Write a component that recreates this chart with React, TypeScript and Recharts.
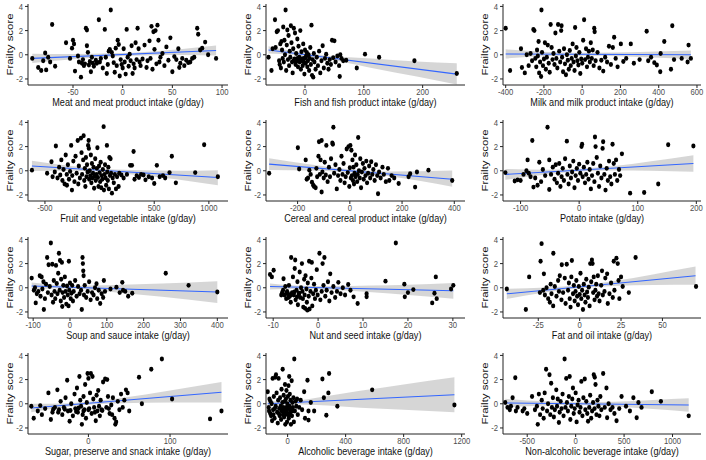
import React from 'react';
import { ComposedChart, Scatter, Line, Area, XAxis, YAxis } from 'recharts';

type P = [number, number];
type B = [number, number, number];

// ---------- data (x = intake deviation g/day, y = frailty score) ----------
const meatPoints: P[] = [[-91,-0.3],[-85,-1.05],[-82,-1.3],[-80,-0.5],[-78,0.15],[-77,-1.25],[-75,-0.2],[-73,-0.6],[-71,2.5],[-68,-0.95],[-57,1.0],[-53,-0.3],[-51,0.55],[-50,1.2],[-49,0.9],[-48,-1.35],[-45,-0.1],[-44,-0.6],[-42,-1.85],[-41,-0.7],[-40,-0.4],[-39,-0.9],[-38,-0.75],[-37,2.2],[-36,2.05],[-36,0.75],[-35,0.2],[-34,-0.85],[-33,-0.55],[-32,-1.4],[-31,-0.2],[-30,-0.7],[-29,-0.95],[-27,-0.45],[-26,-0.7],[-24,2.9],[-23,-0.6],[-22,-0.3],[-20,-1.1],[-18,2.1],[-17,-0.2],[-16,-1.55],[-15,-0.8],[-14,0.3],[-13,0.45],[-12,3.7],[-11,0.2],[-10,-0.1],[-9,-0.65],[-8,-1.45],[-7,0.55],[-6,-0.9],[-5,1.2],[-4,0.85],[-3,-1.75],[-2,-0.4],[-1,-0.8],[0,-1.1],[1,0.5],[2,-0.6],[3,-1.6],[4,2.1],[5,-0.2],[6,-0.95],[7,0.05],[8,-0.5],[9,0.75],[10,-1.55],[11,-0.75],[12,-1.1],[13,1.0],[14,-0.4],[15,2.2],[16,0.5],[17,-0.6],[18,-0.9],[20,-0.35],[22,0.8],[24,-1.05],[25,-0.5],[27,1.15],[28,-0.3],[29,2.35],[30,-1.2],[31,1.9],[32,0.45],[33,2.0],[34,-0.75],[35,2.45],[36,1.2],[37,-0.6],[38,-0.2],[40,0.1],[42,-0.9],[44,0.65],[46,-0.45],[48,1.4],[50,-1.4],[52,-0.15],[54,-0.4],[56,0.5],[57,-1.05],[58,-0.7],[60,-0.3],[62,-0.9],[64,-0.45],[66,-0.65],[68,-0.6],[70,-0.3],[72,-0.2],[75,2.2],[76,1.7],[78,0.4],[80,0.55],[83,1.05],[86,0.0],[94,-0.3]];
const meatFit: P[] = [[-91,-0.3],[94,0.35]];
const meatBand: B[] = [[-91,-0.68,0.08],[-50,-0.38,0.06],[-10,-0.15,0.12],[30,-0.03,0.28],[60,-0.02,0.48],[94,-0.07,0.77]];

const fishPoints: P[] = [[-62,-0.2],[-57,-1.3],[-55,0.5],[-51,2.9],[-50,0.6],[-48,1.9],[-46,2.0],[-44,-0.5],[-43,-0.8],[-42,0.9],[-41,-1.1],[-40,1.1],[-39,0.4],[-38,-0.3],[-37,2.3],[-36,-0.6],[-35,1.2],[-34,0.0],[-33,3.7],[-32,-1.3],[-31,0.8],[-30,2.05],[-29,-0.4],[-28,1.6],[-27,-0.9],[-26,0.3],[-25,-0.2],[-24,2.4],[-23,1.0],[-22,-0.6],[-21,-1.5],[-20,0.5],[-19,2.2],[-19,-0.5],[-18,-0.35],[-17,1.8],[-17,-0.4],[-16,-0.8],[-15,0.1],[-15,-0.55],[-14,-0.45],[-13,1.3],[-13,-0.3],[-12,-1.0],[-11,0.7],[-11,-0.45],[-10,-0.2],[-9,-0.6],[-9,-0.25],[-8,2.0],[-7,-1.2],[-7,-0.4],[-6,0.25],[-5,-0.5],[-4,-0.9],[-4,-0.35],[-3,0.9],[-2,-0.3],[-2,-0.6],[-1,-1.6],[0,0.4],[1,-0.7],[1,-0.25],[2,-0.1],[3,0.2],[4,-1.0],[5,-0.5],[6,0.0],[7,-1.3],[8,-0.3],[9,0.6],[10,-0.8],[11,2.45],[12,-1.7],[13,-0.4],[14,-1.85],[15,0.1],[16,-0.6],[18,-1.2],[20,-0.2],[22,-0.9],[24,0.3],[26,-1.5],[28,-0.5],[30,0.75],[32,-1.1],[34,-0.3],[36,0.05],[38,-0.7],[40,-1.2],[42,-0.4],[44,-0.8],[46,1.2],[48,-0.25],[50,1.15],[52,-0.6],[55,-0.1],[58,-0.9],[59,-1.8],[60,0.0],[62,-0.3],[65,-0.5],[70,-0.45],[88,-1.1],[102,0.05],[126,-0.2],[186,-0.5],[258,-1.55]];
const fishFit: P[] = [[-62,0.4],[258,-1.6]];
const fishBand: B[] = [[-62,0.1,0.7],[-20,-0.01,0.29],[10,-0.18,0.08],[60,-0.56,-0.16],[120,-1.16,-0.32],[190,-1.8,-0.55],[258,-2.45,-0.7]];

const milkPoints: P[] = [[-400,2.2],[-377,-1.3],[-320,0.5],[-315,-1.05],[-300,-1.5],[-290,0.0],[-280,-0.9],[-270,0.1],[-262,-0.5],[-255,2.1],[-250,2.0],[-245,-0.3],[-240,-1.0],[-236,0.4],[-232,-0.1],[-228,1.1],[-225,-1.5],[-220,-0.6],[-215,-1.8],[-213,3.7],[-210,0.2],[-205,-0.9],[-200,-0.35],[-195,1.0],[-190,-1.2],[-185,-0.2],[-180,0.8],[-175,-0.7],[-170,-1.45],[-165,2.5],[-160,0.6],[-155,-0.4],[-150,0.1],[-145,-0.8],[-140,1.8],[-135,-0.3],[-130,-1.1],[-126,2.5],[-120,0.3],[-115,-0.6],[-110,2.0],[-108,2.4],[-105,-0.2],[-100,-1.4],[-95,0.5],[-90,-0.75],[-85,-1.65],[-80,0.0],[-75,-0.45],[-70,-1.2],[-65,0.35],[-60,-0.9],[-55,-0.3],[-50,0.9],[-45,-0.6],[-40,-1.3],[-37,2.25],[-33,-0.1],[-30,0.6],[-25,-0.5],[-20,-0.85],[-15,0.2],[-10,-1.55],[-5,-0.35],[0,-0.7],[5,1.2],[10,2.9],[15,-0.4],[20,0.5],[25,-1.0],[30,-0.2],[35,0.3],[40,-0.6],[45,1.0],[50,-0.3],[55,0.4],[60,-0.9],[63,2.2],[65,1.9],[70,-0.5],[80,0.2],[90,-1.1],[100,-0.45],[110,-1.35],[120,-0.2],[130,-0.6],[140,0.7],[150,-0.8],[160,0.6],[167,1.45],[175,-0.3],[185,-1.0],[202,0.9],[215,-0.55],[230,-0.3],[254,0.9],[270,-0.7],[300,-0.4],[337,1.95],[345,-0.5],[360,-0.2],[377,-0.65],[390,-0.85],[408,-1.4],[410,0.1],[429,1.1],[464,-1.2],[471,2.4],[480,-0.4],[520,-0.3],[551,-0.6],[556,0.8],[568,-0.3]];
const milkFit: P[] = [[-400,0.07],[568,0.0]];
const milkBand: B[] = [[-400,-0.31,0.45],[-150,-0.11,0.21],[50,-0.08,0.16],[300,-0.18,0.22],[568,-0.35,0.35]];

const fruitPoints: P[] = [[-619,0.05],[-480,-0.2],[-440,0.75],[-430,-0.5],[-410,-0.1],[-400,2.05],[-385,-0.6],[-370,0.3],[-360,-0.35],[-350,0.9],[-340,-0.8],[-330,0.1],[-320,-1.1],[-310,1.3],[-300,-0.3],[-299,-1.2],[-290,0.5],[-280,-0.7],[-270,-0.05],[-260,2.1],[-253,-1.6],[-250,-0.4],[-240,0.8],[-230,-0.9],[-220,1.2],[-210,-0.2],[-200,2.5],[-195,-1.1],[-190,0.4],[-180,-0.6],[-171,2.7],[-165,1.5],[-160,-0.3],[-150,0.9],[-146,2.9],[-140,-0.8],[-135,0.2],[-130,-1.3],[-125,1.1],[-120,-0.5],[-115,0.5],[-110,-0.1],[-105,2.1],[-100,2.5],[-98,1.85],[-95,-0.7],[-90,0.0],[-85,-0.4],[-80,1.3],[-75,-1.0],[-70,0.6],[-65,-0.6],[-60,-0.2],[-55,0.3],[-50,-1.45],[-45,-0.45],[-40,1.0],[-35,-0.8],[-30,-0.3],[-25,0.2],[-20,1.9],[-15,-0.55],[-10,-1.3],[-5,0.4],[0,-0.15],[5,-0.9],[10,0.7],[15,-1.4],[20,-0.4],[25,-0.7],[30,0.1],[37,3.65],[40,-1.6],[45,-0.3],[50,0.5],[55,-0.6],[60,-1.2],[67,2.1],[70,-0.1],[75,-0.8],[80,0.3],[85,-1.5],[90,1.1],[95,-0.4],[100,1.0],[105,-0.2],[113,-1.85],[120,-0.6],[130,-1.0],[140,-0.3],[150,-1.5],[160,-0.5],[174,-1.3],[180,-0.2],[200,-0.35],[220,-0.6],[250,-0.3],[280,0.45],[296,0.45],[311,1.6],[320,-0.7],[340,-0.4],[360,-0.55],[380,-0.3],[402,-0.35],[420,-0.75],[450,-0.5],[480,-0.6],[500,-1.05],[524,0.45],[550,-0.5],[580,-0.4],[600,-0.6],[640,-0.15],[661,1.2],[698,-1.0],[875,-0.15],[957,2.15],[1082,-0.5]];
const fruitFit: P[] = [[-619,0.4],[1082,-0.55]];
const fruitBand: B[] = [[-619,-0.02,0.82],[-300,0.0,0.44],[0,-0.07,0.17],[300,-0.3,0.06],[700,-0.7,0.0],[1082,-1.2,0.05]];

const cerealPoints: P[] = [[-309,-0.2],[-199,1.9],[-194,0.15],[-169,0.9],[-165,-0.7],[-160,-0.6],[-155,0.05],[-150,-0.3],[-145,-0.95],[-140,-1.2],[-137,-1.3],[-131,-1.4],[-128,0.2],[-125,-0.5],[-120,1.2],[-118,2.4],[-115,-0.3],[-112,0.9],[-108,2.5],[-108,-1.75],[-105,-0.1],[-100,-0.6],[-96,0.7],[-92,-0.35],[-90,2.1],[-85,-0.9],[-80,0.3],[-76,-0.5],[-72,1.0],[-67,2.3],[-65,2.2],[-63,3.6],[-60,-0.2],[-55,0.5],[-50,-1.5],[-45,-0.4],[-40,0.1],[-36,-0.8],[-32,1.2],[-28,-0.3],[-24,0.6],[-20,-1.0],[-16,-0.5],[-12,1.8],[-8,-0.15],[-5,2.0],[-2,-1.3],[0,0.25],[2,2.1],[4,-0.6],[6,1.7],[8,-0.4],[10,0.9],[12,-0.8],[14,0.3],[16,-1.1],[18,-0.2],[20,1.3],[22,-0.5],[25,0.5],[28,-0.9],[30,-0.3],[32,2.75],[35,0.0],[38,-0.6],[40,1.0],[43,-1.4],[46,-0.1],[50,0.6],[53,-0.7],[56,0.2],[60,-0.4],[63,0.8],[66,-1.0],[70,-0.2],[74,0.4],[78,-0.6],[82,0.75],[86,-0.3],[90,0.1],[95,-0.8],[100,0.5],[105,-0.4],[108,-1.9],[112,-0.1],[118,-0.6],[125,0.3],[130,-0.3],[138,-0.9],[146,0.2],[151,-0.8],[160,-0.4],[170,-0.6],[187,-1.05],[225,-0.5],[231,-0.25],[250,-1.35],[257,-0.1],[301,0.05],[392,-0.8]];
const cerealFit: P[] = [[-309,0.55],[392,-0.7]];
const cerealBand: B[] = [[-309,0.07,1.03],[-150,0.02,0.52],[0,-0.12,0.12],[150,-0.46,-0.06],[392,-1.32,0.02]];

const potatoPoints: P[] = [[-126,-0.15],[-110,-0.85],[-105,-0.75],[-100,-0.8],[-95,-0.3],[-90,0.0],[-88,0.9],[-86,-0.2],[-83,-0.5],[-80,2.5],[-78,-1.35],[-75,-0.6],[-71,-1.2],[-68,0.7],[-65,-0.9],[-62,0.1],[-58,-0.4],[-54,3.6],[-51,0.9],[-51,-1.55],[-48,-0.3],[-45,0.3],[-42,-0.7],[-40,0.5],[-38,-1.0],[-36,-0.2],[-34,0.6],[-32,-1.3],[-30,-0.5],[-28,0.2],[-26,-0.8],[-24,1.0],[-21,2.45],[-20,-0.3],[-18,-1.1],[-16,0.4],[-14,-0.6],[-12,-0.1],[-10,0.8],[-8,-1.4],[-6,-0.4],[-4,0.2],[-2,-0.8],[0,0.55],[2,-0.2],[4,2.0],[5,2.2],[6,-0.5],[8,0.3],[10,-1.0],[12,-0.3],[14,0.7],[16,-0.7],[18,0.1],[20,-1.5],[22,-0.4],[24,0.6],[26,-0.9],[27,2.8],[28,2.0],[30,1.1],[32,-0.2],[34,-1.3],[36,0.4],[38,-0.6],[40,1.85],[41,2.4],[43,-0.3],[45,-1.6],[47,0.2],[49,-0.8],[51,0.8],[53,-0.5],[55,-1.1],[57,2.2],[59,0.6],[61,-0.3],[63,0.9],[65,-0.8],[68,0.1],[70,-0.4],[73,1.4],[87,-1.85],[111,-1.8],[135,-1.1],[152,2.15],[195,2.05]];
const potatoFit: P[] = [[-126,-0.3],[195,0.6]];
const potatoBand: B[] = [[-126,-0.75,0.15],[-60,-0.32,0.08],[0,-0.07,0.17],[60,0.03,0.39],[120,0.0,0.76],[195,-0.08,1.28]];

const soupPoints: P[] = [[-104,0.8],[-98,-0.2],[-95,0.0],[-93,-1.25],[-90,-0.5],[-86,-0.3],[-82,1.0],[-80,-0.7],[-77,0.9],[-75,-0.1],[-72,0.5],[-71,-1.8],[-68,-0.9],[-65,0.3],[-62,2.5],[-60,-0.4],[-58,1.9],[-55,0.1],[-52,3.7],[-50,-0.6],[-48,1.95],[-46,-1.2],[-44,0.6],[-42,-0.3],[-40,-0.9],[-38,1.85],[-36,0.35],[-34,-0.5],[-32,1.2],[-30,2.85],[-28,-0.2],[-27,2.25],[-25,-1.1],[-24,0.7],[-22,2.1],[-21,-1.55],[-20,-0.4],[-18,0.2],[-16,-0.8],[-14,0.9],[-12,-0.3],[-10,-1.35],[-8,0.15],[-6,-0.6],[-4,-1.5],[-3,2.2],[-2,-0.2],[0,0.4],[2,-0.9],[4,-0.45],[6,0.2],[8,-1.1],[10,-0.3],[14,0.6],[18,-0.7],[22,0.1],[26,-0.5],[30,-0.2],[32,-1.8],[34,2.5],[35,2.0],[36,1.4],[37,1.0],[38,-0.6],[40,0.2],[44,-0.8],[48,-0.3],[52,0.5],[56,-1.0],[60,-0.4],[64,-0.6],[68,0.0],[72,0.33],[74,-0.9],[78,-0.2],[82,-1.3],[86,-0.5],[90,-0.8],[92,0.6],[95,-0.3],[110,-0.1],[126,0.05],[135,-0.4],[142,0.45],[144,-0.2],[150,-0.3],[158,-0.7],[169,-0.45],[260,1.2],[322,0.2],[400,-0.35]];
const soupFit: P[] = [[-104,0.15],[400,-0.35]];
const soupBand: B[] = [[-104,-0.13,0.43],[-40,-0.06,0.24],[20,-0.1,0.16],[120,-0.37,0.23],[250,-0.75,0.35],[400,-1.25,0.55]];

const nutPoints: P[] = [[-10.7,1.1],[-10.3,0.9],[-9.9,1.45],[-8.2,-0.6],[-8.0,-0.4],[-7.8,-0.2],[-7.7,0.75],[-7.5,-0.6],[-7.3,0.1],[-7.1,-0.9],[-7.0,-0.45],[-6.9,-0.3],[-6.7,-0.5],[-6.6,-0.8],[-6.5,0.2],[-6.3,-0.7],[-6.1,-1.2],[-6.0,2.5],[-5.9,-0.55],[-5.8,-0.4],[-5.6,0.9],[-5.4,-0.6],[-5.3,-0.35],[-5.2,1.6],[-5.1,2.3],[-5.0,-1.0],[-4.8,-0.2],[-4.7,-0.75],[-4.6,0.5],[-4.5,-1.4],[-4.3,-0.5],[-4.2,-0.45],[-4.1,1.3],[-4.0,-0.8],[-3.8,0.0],[-3.6,2.0],[-3.5,-0.3],[-3.4,-0.9],[-3.3,-1.6],[-3.1,0.7],[-3.0,-0.6],[-2.9,-1.7],[-2.8,1.0],[-2.6,-0.1],[-2.5,-1.2],[-2.4,-1.85],[-2.3,0.4],[-2.1,-0.7],[-2.0,2.2],[-1.9,-1.75],[-1.7,-0.3],[-1.5,0.8],[-1.4,2.1],[-1.3,-1.5],[-1.1,-0.5],[-0.9,0.3],[-0.7,-0.9],[-0.5,-0.2],[-0.3,1.5],[-0.1,-0.6],[0.3,2.85],[0.5,-1.0],[0.8,-0.3],[1.0,2.0],[1.2,0.2],[1.4,2.5],[1.6,-0.7],[1.9,-0.2],[2.2,0.5],[2.5,-1.1],[2.7,1.15],[3.0,-0.4],[3.4,0.1],[3.8,-0.8],[4.2,-0.3],[4.5,0.45],[5.0,-0.5],[5.5,0.0],[6.0,-0.6],[6.7,0.27],[7.2,-0.2],[7.9,-0.75],[8.8,-1.3],[10.8,-0.5],[10.8,-0.75],[15.0,0.55],[17.3,3.7],[19.2,0.3],[19.3,-0.75],[20.0,-0.4],[21.2,-0.15],[25.4,-1.25],[25.9,-0.45],[26.2,0.9],[26.4,-0.9],[29.6,-0.1],[30.1,0.2]];
const nutFit: P[] = [[-10.7,0.1],[30.1,-0.25]];
const nutBand: B[] = [[-10.7,-0.15,0.35],[-4,-0.08,0.16],[2,-0.14,0.12],[12,-0.38,0.18],[20,-0.59,0.25],[30.1,-0.9,0.4]];

const fatPoints: P[] = [[-44,-0.1],[-32.5,-1.8],[-30.5,0.9],[-24,-0.4],[-23,3.65],[-23.6,2.2],[-22,-0.2],[-21.6,1.15],[-21,-0.6],[-20,0.0],[-19,-0.9],[-18,-1.2],[-17.5,0.3],[-17,-0.5],[-16,-1.5],[-15.9,2.85],[-15,0.1],[-14,-0.7],[-13,0.6],[-12.5,-0.3],[-12,1.0],[-11,-1.0],[-10.8,1.9],[-10,-0.4],[-9,0.8],[-8.5,-1.3],[-7.8,1.95],[-7,-0.2],[-6.5,0.4],[-6,-0.9],[-5.5,-1.6],[-5,0.9],[-4.7,2.25],[-4,-0.5],[-3.5,0.2],[-3,-1.1],[-2.5,-0.3],[-2,0.6],[-1.5,-0.7],[-1,-1.4],[-0.5,0.1],[0,-0.55],[0.5,1.2],[1,-0.9],[1.5,-0.2],[2,-1.8],[2.5,0.3],[3,-0.6],[3.5,-1.2],[4,0.7],[4.5,-0.35],[5,-0.8],[5.5,0.05],[6,-1.5],[6.4,2.0],[7,0.5],[7.4,2.3],[7.8,2.0],[8.2,-0.4],[8.5,0.9],[9,-1.0],[9.5,-0.2],[10,0.3],[10.5,-0.7],[11,1.0],[11.5,-0.5],[12,-1.1],[13,0.2],[13.5,1.4],[14,-0.6],[15,-0.3],[15.5,0.8],[16.6,1.15],[17,-1.3],[18,-0.5],[19,0.4],[20,-0.8],[20.6,2.2],[21,-0.2],[22.2,2.45],[23,2.0],[23.5,0.6],[24,-0.9],[25,0.9],[26,0.1],[29.7,-0.4],[33.8,2.5],[70.3,0.1]];
const fatFit: P[] = [[-44,-0.5],[70,1.0]];
const fatBand: B[] = [[-44,-0.92,-0.08],[-20,-0.38,0.02],[0,-0.04,0.2],[20,0.14,0.54],[45,0.22,1.12],[70,0.25,1.75]];

const sugarPoints: P[] = [[-70,-0.2],[-67,-1.2],[-62,-0.6],[-59,-0.15],[-57,-0.9],[-53,-0.4],[-49,0.9],[-46,-1.3],[-44,-0.7],[-43,-0.45],[-41,-0.3],[-38,1.15],[-37,-0.7],[-36,-0.5],[-34,0.2],[-32,-0.9],[-30,-0.3],[-29,-0.45],[-28,0.5],[-26,1.95],[-25,-0.6],[-23,-1.45],[-22,-0.55],[-21,0.0],[-19,-1.0],[-17,0.8],[-16,-0.4],[-15,-0.65],[-14,1.3],[-13,-0.7],[-12,-0.35],[-11,2.25],[-10,0.3],[-9,-0.2],[-8,-1.7],[-7,-0.9],[-6,0.6],[-6,-0.6],[-5,-0.5],[-4,1.6],[-3,-1.2],[-2,0.1],[-1,2.5],[0,2.1],[0,-0.5],[1,-0.4],[2,0.9],[3,2.5],[4,-0.8],[5,2.25],[6,0.4],[7,-0.3],[8,-0.7],[9,-1.4],[10,0.7],[11,-0.6],[12,1.1],[13,-0.2],[14,-1.0],[15,0.3],[16,-0.5],[17,-0.55],[18,1.8],[20.5,2.05],[22,-0.3],[23,2.0],[24,0.6],[25,-0.4],[26,-0.8],[28,-0.1],[29,-0.9],[30,0.5],[32,-1.2],[33,-1.7],[34,-1.5],[36,0.2],[38,-0.5],[40,0.8],[42,-0.3],[44,0.3],[46,1.15],[48,0.9],[50,-0.6],[62,2.2],[65.5,0.0],[77,2.85],[90,3.7],[102.5,0.4],[149,-1.25],[163,-0.6]];
const sugarFit: P[] = [[-70,-0.35],[163,0.95]];
const sugarBand: B[] = [[-70,-0.7,0.0],[-30,-0.28,0.02],[0,-0.08,0.16],[40,0.04,0.48],[100,0.1,1.1],[163,0.1,1.8]];

const alcoholPoints: P[] = [[-137,1.0],[-130,-0.3],[-128,-0.6],[-125,0.4],[-120,-0.8],[-118,0.2],[-114,-1.0],[-110,0.0],[-107,-1.4],[-103,2.1],[-100,-0.5],[-98,-0.9],[-95,0.6],[-90,-1.2],[-88,-0.4],[-85,2.2],[-82,-0.2],[-80,2.4],[-76,0.9],[-72,-0.7],[-68,-1.6],[-65,0.3],[-62,2.1],[-60,-0.8],[-58,-0.4],[-55,-1.0],[-52,0.5],[-48,-0.2],[-45,-1.3],[-44,-0.3],[-42,1.2],[-40,-0.6],[-36,0.1],[-34,2.85],[-32,-0.9],[-30,-0.3],[-28,-0.7],[-27,0.7],[-24,-1.1],[-22,-0.5],[-20,0.2],[-18,1.6],[-18,-0.4],[-16,-1.7],[-14,-0.8],[-12,0.4],[-10,-0.3],[-8,1.1],[-8,-0.8],[-6,-0.6],[-4,-1.5],[-2,0.0],[0,-0.9],[2,0.6],[4,-0.4],[5,-0.3],[6,1.5],[8,-1.2],[11,2.25],[13,-0.2],[15,0.8],[17,-0.7],[18,-0.9],[20,0.3],[23,-1.7],[25,-0.5],[28,1.9],[30,-1.0],[33,0.1],[35,-0.6],[36,-0.3],[40,0.5],[43,-1.5],[46,3.7],[50,-0.6],[55,0.2],[60,-0.2],[65,0.4],[70,-0.9],[80,-0.3],[90,0.3],[100,-0.5],[114,1.0],[120,-1.2],[137,1.95],[144,-0.6],[144,-1.35],[160,0.1],[183,-0.6],[240,2.05],[250,0.5],[267,-0.95],[281,0.9],[286,2.5],[343,-0.2],[583,1.15],[1150,-0.1]];
const alcoholFit: P[] = [[-137,0.0],[1150,0.75]];
const alcoholBand: B[] = [[-137,-0.2,0.2],[0,-0.04,0.2],[200,-0.1,0.5],[500,-0.33,1.07],[800,-0.5,1.6],[1150,-0.7,2.2]];

const nonAlcPoints: P[] = [[-727,0.1],[-703,-0.3],[-680,-0.5],[-668,-0.2],[-651,0.5],[-623,2.15],[-617,-0.6],[-600,-0.3],[-547,-0.6],[-530,-0.4],[-500,-0.8],[-450,0.6],[-420,-0.5],[-400,-0.2],[-391,-1.7],[-380,0.8],[-367,-0.9],[-350,0.3],[-340,-0.4],[-330,-1.2],[-320,0.9],[-305,2.85],[-295,-0.6],[-285,0.0],[-270,2.4],[-262,-0.9],[-253,1.7],[-245,-0.3],[-235,0.5],[-225,-1.1],[-215,-0.5],[-200,1.15],[-192,-0.2],[-185,0.4],[-173,-1.55],[-165,-0.7],[-155,0.2],[-145,-0.4],[-135,0.8],[-125,-1.0],[-114,3.7],[-105,-0.3],[-97,2.1],[-90,0.1],[-80,-0.6],[-70,0.6],[-62,2.25],[-55,-1.3],[-45,-0.2],[-35,0.4],[-28,1.3],[-20,-0.8],[-10,-0.4],[0,0.9],[10,-1.5],[20,-0.1],[30,0.3],[40,-0.7],[50,-0.3],[59,1.85],[70,-1.0],[80,0.5],[94,2.05],[100,-0.5],[110,0.2],[120,-0.8],[128,-1.45],[140,-0.3],[150,0.7],[160,-1.2],[170,-0.6],[180,0.1],[187,2.4],[195,-0.4],[197,2.2],[205,1.6],[215,-0.9],[225,0.3],[235,-0.2],[245,-1.0],[255,0.6],[265,-0.5],[284,2.5],[300,-0.3],[318,1.3],[325,-1.15],[340,0.0],[360,-0.5],[380,-0.3],[400,-0.8],[422,-1.4],[450,-0.4],[474,0.6],[520,-0.2],[560,-0.6],[596,0.5],[630,-1.15],[648,0.1],[680,-0.3],[786,1.0],[880,0.2],[1167,-1.0]];
const nonAlcFit: P[] = [[-727,0.07],[1167,-0.1]];
const nonAlcBand: B[] = [[-727,-0.28,0.42],[-300,-0.14,0.2],[0,-0.11,0.13],[400,-0.23,0.17],[800,-0.44,0.32],[1167,-0.65,0.45]];

const titles = [
  'Meat and meat product intake (g/day)',
  'Fish and fish product intake (g/day)',
  'Milk and milk product intake (g/day)',
  'Fruit and vegetable intake (g/day)',
  'Cereal and cereal product intake (g/day)',
  'Potato intake (g/day)',
  'Soup and sauce intake (g/day)',
  'Nut and seed intake (g/day)',
  'Fat and oil intake (g/day)',
  'Sugar, preserve and snack intake (g/day)',
  'Alcoholic beverage intake (g/day)',
  'Non-alcoholic beverage intake (g/day)',
];
const yTitle = 'Frailty score';

const xTicks: number[][] = [
  [-50, 0, 50, 100],
  [0, 100, 200],
  [-400, -200, 0, 200, 400, 600],
  [-500, 0, 500, 1000],
  [-200, 0, 200, 400],
  [-100, 0, 100, 200],
  [-100, 0, 100, 200, 300, 400],
  [-10, 0, 10, 20, 30],
  [-25, 0, 25, 50],
  [0, 100],
  [0, 400, 800, 1200],
  [-500, 0, 500, 1000],
];
const yTicks = [-2, 0, 2, 4];

// ---------- layout ----------
const xDomains: [number, number][] = [
  [-95.3, 106], [-66.3, 272], [-414, 621],
  [-655, 1175], [-321, 441], [-130, 208],
  [-114, 429], [-11.6, 32.7], [-46.3, 73.3],
  [-74, 171], [-149, 1223], [-750, 1294],
];
const yDomain: [number, number] = [-2.5, 4.2];
const COL_AXIS_X = [28, 266, 502.5];
const COL_PLOT_W = [200, 199, 198];
const ROW_TOP = [3.6, 119.9, 236.6, 352.6];
const PLOT_H = 81;
const Y_AXIS_W = 28;
const X_AXIS_H = 30;
const TOP_PAD = 6;
const SQX = 0.8; // horizontal squeeze of the source figure's lettering
const TICK_FS = 9.6;
const TITLE_FS = 11.4;

const series = [
  { pts: meatPoints, fit: meatFit, band: meatBand },
  { pts: fishPoints, fit: fishFit, band: fishBand },
  { pts: milkPoints, fit: milkFit, band: milkBand },
  { pts: fruitPoints, fit: fruitFit, band: fruitBand },
  { pts: cerealPoints, fit: cerealFit, band: cerealBand },
  { pts: potatoPoints, fit: potatoFit, band: potatoBand },
  { pts: soupPoints, fit: soupFit, band: soupBand },
  { pts: nutPoints, fit: nutFit, band: nutBand },
  { pts: fatPoints, fit: fatFit, band: fatBand },
  { pts: sugarPoints, fit: sugarFit, band: sugarBand },
  { pts: alcoholPoints, fit: alcoholFit, band: alcoholBand },
  { pts: nonAlcPoints, fit: nonAlcFit, band: nonAlcBand },
];

const Dot = (p: any) => <ellipse cx={p.cx} cy={p.cy} rx={2.1} ry={2.45} fill="#000" />;

const XTick = (p: any) => (
  <text x={0} y={0} transform={`translate(${p.x},${p.y}) scale(${SQX},1)`} textAnchor="middle" dy="0.75em" fontSize={TICK_FS} fill="#4d4d4d">
    {p.payload.value}
  </text>
);
const YTick = (p: any) => (
  <text x={0} y={0} transform={`translate(${p.x},${p.y}) scale(${SQX},1)`} textAnchor="end" dy="0.36em" fontSize={TICK_FS} fill="#4d4d4d">
    {p.payload.value}
  </text>
);

const makeXTitle = (title: string) => (p: any) => {
  const vb = p.viewBox || {};
  const cx = vb.x + vb.width / 2;
  const y = vb.y + 21;
  return (
    <text x={0} y={0} transform={`translate(${cx},${y}) scale(${SQX},1)`} textAnchor="middle" fontSize={TITLE_FS} fill="#111">
      {title}
    </text>
  );
};
const YTitle = (p: any) => {
  const vb = p.viewBox || {};
  const cx = vb.x + vb.width - 18;
  const cy = vb.y + vb.height / 2;
  return (
    <text x={0} y={0} transform={`translate(${cx},${cy}) rotate(-90) scale(1,${SQX})`} textAnchor="middle" dy="0.36em" fontSize={TITLE_FS} fill="#111">
      {yTitle}
    </text>
  );
};

function Panel({ i }: { i: number }) {
  const col = i % 3;
  const row = Math.floor(i / 3);
  const left = COL_AXIS_X[col] - Y_AXIS_W;
  const top = ROW_TOP[row] - TOP_PAD;
  const rightPad = 8;
  const width = Y_AXIS_W + COL_PLOT_W[col] + rightPad;
  const height = TOP_PAD + PLOT_H + X_AXIS_H;
  const s = series[i];
  const pts = s.pts.map(([x, y]) => ({ x, y }));
  const fit = s.fit.map(([x, y]) => ({ x, y }));
  const band = s.band.map(([x, lo, hi]) => ({ x, range: [lo, hi] }));
  return (
    <div style={{ position: 'absolute', left, top }}>
      <ComposedChart width={width} height={height} margin={{ top: TOP_PAD, right: rightPad, bottom: 0, left: 0 }}>
        <XAxis
          type="number"
          dataKey="x"
          domain={xDomains[i]}
          ticks={xTicks[i]}
          interval={0}
          allowDataOverflow
          height={X_AXIS_H}
          tickSize={3}
          tickMargin={0}
          stroke="#222"
          tick={XTick}
          label={makeXTitle(titles[i])}
        />
        <YAxis
          type="number"
          dataKey="y"
          domain={yDomain}
          ticks={yTicks}
          interval={0}
          allowDataOverflow
          width={Y_AXIS_W}
          tickSize={3}
          tickMargin={2}
          stroke="#222"
          tick={YTick}
          label={YTitle}
        />
        <Scatter data={pts} dataKey="y" shape={Dot} isAnimationActive={false} />
        <Area data={band} dataKey="range" type="monotone" stroke="none" fill="#999999" fillOpacity={0.4} isAnimationActive={false} />
        <Line data={fit} dataKey="y" stroke="#3366FF" strokeWidth={1.1} dot={false} activeDot={false} isAnimationActive={false} />
      </ComposedChart>
    </div>
  );
}

export default function App() {
  return (
    <div style={{ position: 'absolute', left: 0, top: 0, width: 706, height: 460, background: '#fff', fontFamily: '"Liberation Sans", Arial, sans-serif' }}>
      {series.map((_, i) => (
        <Panel key={i} i={i} />
      ))}
    </div>
  );
}
